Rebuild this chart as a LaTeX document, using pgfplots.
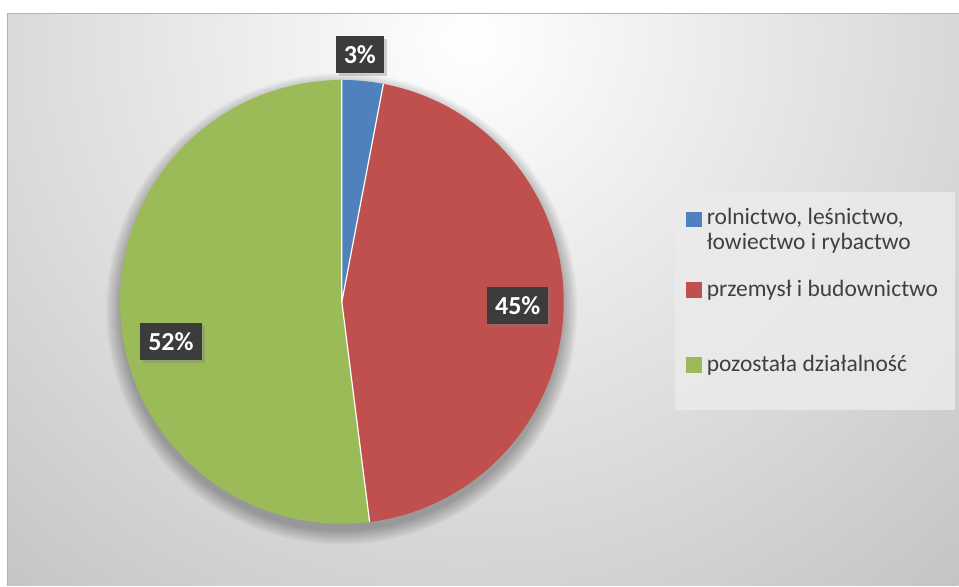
\documentclass[border=0pt]{standalone}
\usepackage{pgfplots}
\pgfplotsset{compat=1.18}
\usepackage{pgfplotstable}
\usepackage{fontspec}
\setmainfont{Carlito}
\usetikzlibrary{shadows}

\definecolor{pieblue}{HTML}{4F81BD}
\definecolor{piered}{HTML}{C0504D}
\definecolor{piegreen}{HTML}{9BBB59}
\definecolor{labelbg}{HTML}{3C3C3C}
\definecolor{legtext}{HTML}{404040}
\definecolor{legbg}{HTML}{EBEBEB}

% shares in percent
\pgfplotstableread{
share
3
45
52
}\piedata

\begin{document}
\begin{tikzpicture}
  \pgfplotstablegetelem{0}{share}\of\piedata\edef\sA{\pgfplotsretval}
  \pgfplotstablegetelem{1}{share}\of\piedata\edef\sB{\pgfplotsretval}
  \pgfplotstablegetelem{2}{share}\of\piedata\edef\sC{\pgfplotsretval}
  % angles, clockwise from the top
  \pgfmathsetmacro\aA{90-3.6*\sA}
  \pgfmathsetmacro\aB{\aA-3.6*\sB}
  \pgfmathsetmacro\aC{\aB-3.6*\sC}
  \begin{axis}[
    scale only axis,
    width=959pt, height=586pt,
    xmin=0, xmax=959, ymin=0, ymax=586,
    y dir=reverse,
    hide axis,
    clip=false,
  ]
    % page and chart area
    \fill[white] (axis cs:0,0) rectangle (axis cs:959,586);
    \begin{scope}
      \clip (axis cs:8,14) rectangle (axis cs:959,586);
      \shade[inner color=white, outer color=black!24] (axis cs:470,40) circle (760pt);
    \end{scope}
    \draw[black!30, line width=1pt] (axis cs:8,586) -- (axis cs:8,14) -- (axis cs:959,14);

    % soft shadow under the pie
    \pgfplotsinvokeforeach{0,...,14}{
      \fill[black, opacity=0.018] (axis cs:342,309) circle ({222pt+#1pt});
    }

    % pie
    \fill[pieblue] (axis cs:342,302) -- ++(90:222pt)
      arc[start angle=90, end angle=\aA, radius=222pt] -- cycle;
    \fill[piered] (axis cs:342,302) -- ++(\aA:222pt)
      arc[start angle=\aA, end angle=\aB, radius=222pt] -- cycle;
    \fill[piegreen] (axis cs:342,302) -- ++(\aB:222pt)
      arc[start angle=\aB, end angle=\aC, radius=222pt] -- cycle;
    \draw[white, line width=1.2pt] (axis cs:342,302) -- ++(90:222pt)
      (axis cs:342,302) -- ++(\aA:222pt) (axis cs:342,302) -- ++(\aB:222pt);

    % data labels
    \tikzset{lab/.style={fill=labelbg, text=white, font=\fontsize{26}{28}\selectfont\bfseries,
      inner xsep=8pt, minimum height=37pt,
      drop shadow={shadow xshift=3pt, shadow yshift=-3pt, opacity=0.35}}}
    \node[lab] at (axis cs:360,55) {\sA\%};
    \node[lab] at (axis cs:518,306) {\sB\%};
    \node[lab] at (axis cs:171,342) {\sC\%};

    % legend
    \fill[legbg, opacity=0.85] (axis cs:675,192) rectangle (axis cs:955,410);
    \tikzset{leg/.style={anchor=base west, inner sep=0pt, text=legtext,
      font=\fontsize{23.5}{25}\selectfont}}
    \fill[pieblue] (axis cs:686,212) rectangle (axis cs:702,227);
    \node[leg] at (axis cs:707,225) {rolnictwo, leśnictwo,};
    \node[leg] at (axis cs:707,250) {łowiectwo i rybactwo};
    \fill[piered] (axis cs:686,282) rectangle (axis cs:702,298);
    \node[leg] at (axis cs:707,297) {przemysł i budownictwo};
    \fill[piegreen] (axis cs:686,357) rectangle (axis cs:702,373);
    \node[leg] at (axis cs:707,372) {pozostała działalność};
  \end{axis}
\end{tikzpicture}
\end{document}
